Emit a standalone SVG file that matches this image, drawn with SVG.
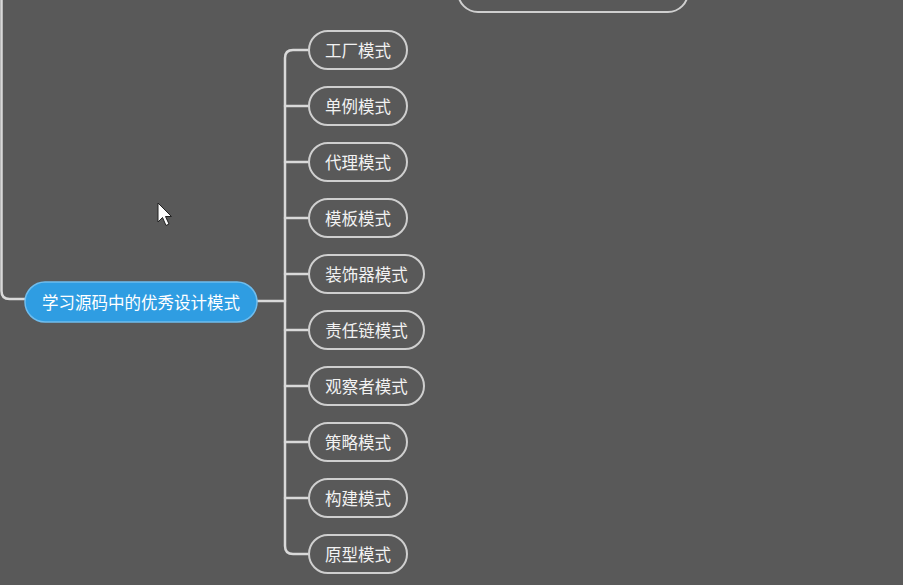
<svg xmlns="http://www.w3.org/2000/svg" width="903" height="585" viewBox="0 0 903 585">
<defs>
<style>
.bg{fill:#595959}
.link{fill:none;stroke:#d9d9d9;stroke-width:2.5;stroke-linecap:round}
.child rect{fill:#595959;stroke:#cfcfcf;stroke-width:2}
.child text{fill:#f2f2f2;font-family:"Noto Sans CJK SC","Noto Sans",sans-serif;font-size:16.5px;dominant-baseline:central;text-anchor:middle}
.root rect{fill:#2f9de2;stroke:#6fbdee;stroke-width:1.5}
.root text{fill:#ffffff;font-family:"Noto Sans CJK SC","Noto Sans",sans-serif;font-size:16.5px;dominant-baseline:central;text-anchor:middle}
</style>
</defs>
<rect class="bg" x="0" y="0" width="903" height="585"/>
<g id="connectors">
<path class="link" d="M1.5,-2 V291 Q1.5,299 9.5,299 H25"/>
<path class="link" d="M257,301 H285"/>
<path class="link" d="M309,50 H293 Q285,50 285,58 V546 Q285,554 293,554 H309"/>
<path class="link" d="M285,106 H309 M285,162 H309 M285,218 H309 M285,274 H309 M285,330 H309 M285,386 H309 M285,442 H309 M285,498 H309"/>
</g>
<g id="top-node" class="child"><rect x="458" y="-28" width="230" height="40" rx="20"/></g>
<g id="root" class="root"><rect x="25" y="282" width="232" height="40" rx="20"/><text x="141" y="302">学习源码中的优秀设计模式</text></g>
<g id="n1" class="child"><rect x="309" y="31" width="98" height="38" rx="19"/><text x="358" y="50">工厂模式</text></g>
<g id="n2" class="child"><rect x="309" y="87" width="98" height="38" rx="19"/><text x="358" y="106">单例模式</text></g>
<g id="n3" class="child"><rect x="309" y="143" width="98" height="38" rx="19"/><text x="358" y="162">代理模式</text></g>
<g id="n4" class="child"><rect x="309" y="199" width="98" height="38" rx="19"/><text x="358" y="218">模板模式</text></g>
<g id="n5" class="child"><rect x="309" y="255" width="115" height="38" rx="19"/><text x="366.5" y="274">装饰器模式</text></g>
<g id="n6" class="child"><rect x="309" y="311" width="115" height="38" rx="19"/><text x="366.5" y="330">责任链模式</text></g>
<g id="n7" class="child"><rect x="309" y="367" width="115" height="38" rx="19"/><text x="366.5" y="386">观察者模式</text></g>
<g id="n8" class="child"><rect x="309" y="423" width="98" height="38" rx="19"/><text x="358" y="442">策略模式</text></g>
<g id="n9" class="child"><rect x="309" y="479" width="98" height="38" rx="19"/><text x="358" y="498">构建模式</text></g>
<g id="n10" class="child"><rect x="309" y="535" width="98" height="38" rx="19"/><text x="358" y="554">原型模式</text></g>
<path d="M158,203 L158,222 L162.5,217.5 L166,225.5 L169,224 L165.5,216.5 L171.5,216.5 Z" fill="#ffffff" stroke="#222" stroke-width="1"/>
</svg>
